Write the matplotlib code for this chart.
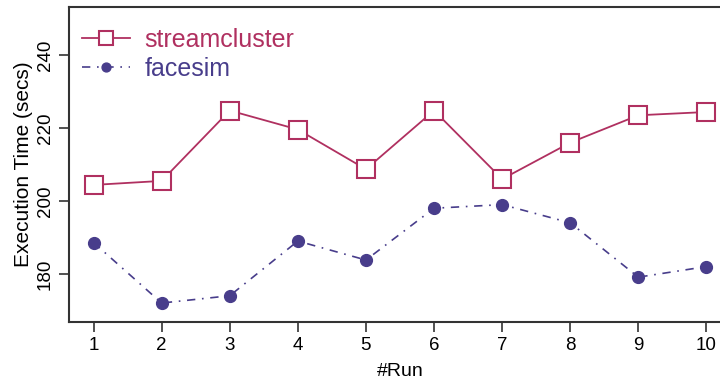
import matplotlib.pyplot as plt

plt.rcParams['font.family'] = ['Liberation Sans', 'DejaVu Sans']

runs = [1, 2, 3, 4, 5, 6, 7, 8, 9, 10]
streamcluster = [204.4, 205.5, 224.8, 219.6, 208.7, 224.8, 206.0, 216.0, 223.5, 224.4]
facesim = [188.6, 172.0, 174.0, 189.0, 183.8, 198.0, 199.0, 194.0, 179.1, 182.0]

c_stream = '#B03060'
c_face = '#483D8B'

fig = plt.figure(figsize=(7.2, 3.83), dpi=100)
# 右侧坐标框延伸出画布
ax = fig.add_axes([69 / 720, 1 - 322 / 383, 662 / 720, 315 / 383])

ax.plot(runs, streamcluster, color=c_stream, linewidth=1.3, marker='s',
        markersize=13, markerfacecolor='white', markeredgecolor=c_stream,
        markeredgewidth=1.5, label='streamcluster')
ax.plot(runs, facesim, color=c_face, linewidth=1.2, dashes=(5, 4, 1, 4),
        marker='o', markersize=8.5, markerfacecolor=c_face,
        markeredgecolor=c_face, label='facesim')

ax.set_xlim(0.64, 10.36)
ax.set_ylim(166.8, 253.2)
ax.set_xticks(runs)
ax.set_yticks([180, 200, 220, 240])
ax.tick_params(direction='out', length=7, width=1.2, colors='#333333',
               labelcolor='black', labelsize=13.5, pad=4)
for lbl in ax.get_yticklabels():
    lbl.set_rotation(90)
    lbl.set_va('center')
for s in ax.spines.values():
    s.set_color('#333333')
    s.set_linewidth(1.5)

ax.set_xlabel('#Run', fontsize=14, labelpad=6)
ax.set_ylabel('Execution Time (secs)', fontsize=15, labelpad=3)

ax.legend(loc='upper left', bbox_to_anchor=(72 / 720, 1 - 18 / 383),
          bbox_transform=fig.transFigure, frameon=False, fontsize=18,
          handlelength=1.9, handletextpad=0.6, labelspacing=0.2,
          markerscale=0.75, labelcolor='linecolor', borderaxespad=0)

plt.savefig('out.png', dpi=100)
